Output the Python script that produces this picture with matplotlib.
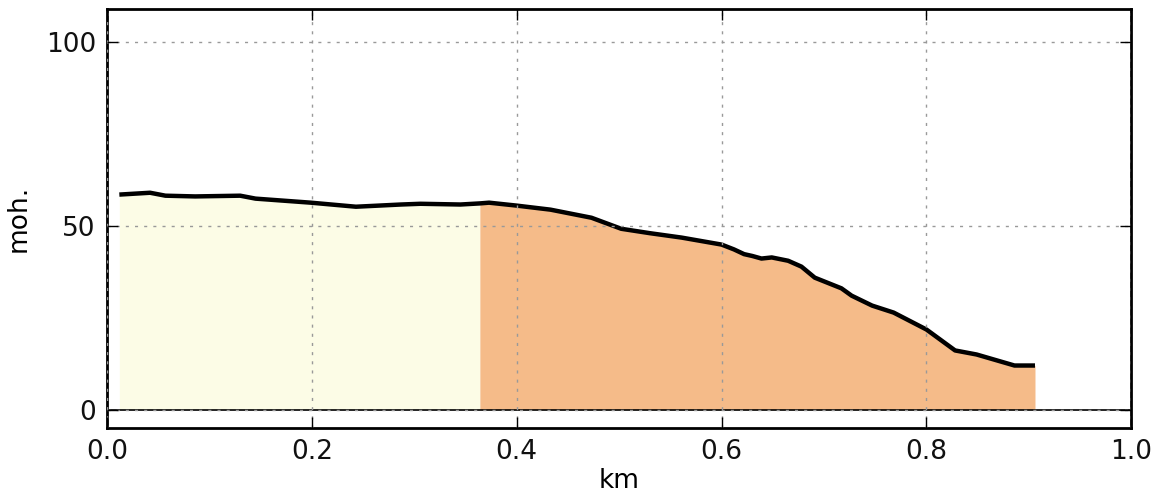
import matplotlib
matplotlib.use("Agg")
import matplotlib.pyplot as plt
import numpy as np

# distance (km) and elevation (m) read from the profile
km = [0.012, 0.042, 0.057, 0.086, 0.130, 0.145, 0.199, 0.243, 0.287, 0.306,
      0.345, 0.364, 0.373, 0.400, 0.433, 0.473, 0.502, 0.530, 0.561, 0.600,
      0.612, 0.622, 0.630, 0.639, 0.649, 0.665, 0.678, 0.691, 0.717, 0.727,
      0.747, 0.768, 0.800, 0.828, 0.849, 0.886, 0.906]
moh = [58.5, 59.0, 58.2, 58.0, 58.2, 57.4, 56.3, 55.2, 55.8, 56.0,
       55.8, 56.1, 56.3, 55.5, 54.4, 52.2, 49.2, 48.0, 46.8, 44.9,
       43.6, 42.3, 41.8, 41.1, 41.4, 40.5, 38.9, 35.9, 33.0, 31.0,
       28.3, 26.4, 21.8, 16.1, 15.0, 12.0, 12.0]
split_km = 0.364

x_ticks = [0.0, 0.2, 0.4, 0.6, 0.8, 1.0]
x_tick_labels = ["0.0", "0.2", "0.4", "0.6", "0.8", "1.0"]
y_ticks = [0, 50, 100]

x = np.array(km)
y = np.array(moh)

fig = plt.figure(figsize=(11.56, 4.97), dpi=100)
ax = fig.add_axes([0.0926, 0.1388, 0.886, 0.8432])

ax.fill_between(x, 0, y, where=x <= split_km, color="#fcfce6", linewidth=0)
ax.fill_between(x, 0, y, where=x >= split_km, color="#f5bb89", linewidth=0)
ax.plot(x, y, color="black", linewidth=3.2, solid_capstyle="butt",
        solid_joinstyle="round")
ax.axhline(0, color="black", linewidth=1.2)

ax.set_xlim(0, 1.0)
ax.set_ylim(-5, 109)
ax.set_xticks(x_ticks)
ax.set_xticklabels(x_tick_labels)
ax.set_yticks(y_ticks)
ax.grid(True, linestyle=(0, (2.2, 4.4)), color="#999999", linewidth=1.0)
ax.set_axisbelow(False)
ax.tick_params(direction="in", top=True, right=True, length=8, width=1,
               labelsize=19, pad=8, colors="black", labelcolor="#111111")
for s in ax.spines.values():
    s.set_linewidth(2)
ax.set_xlabel("km", fontsize=19, labelpad=2)
ax.set_ylabel("moh.", fontsize=19, labelpad=10)

fig.savefig("out.png", dpi=100)
